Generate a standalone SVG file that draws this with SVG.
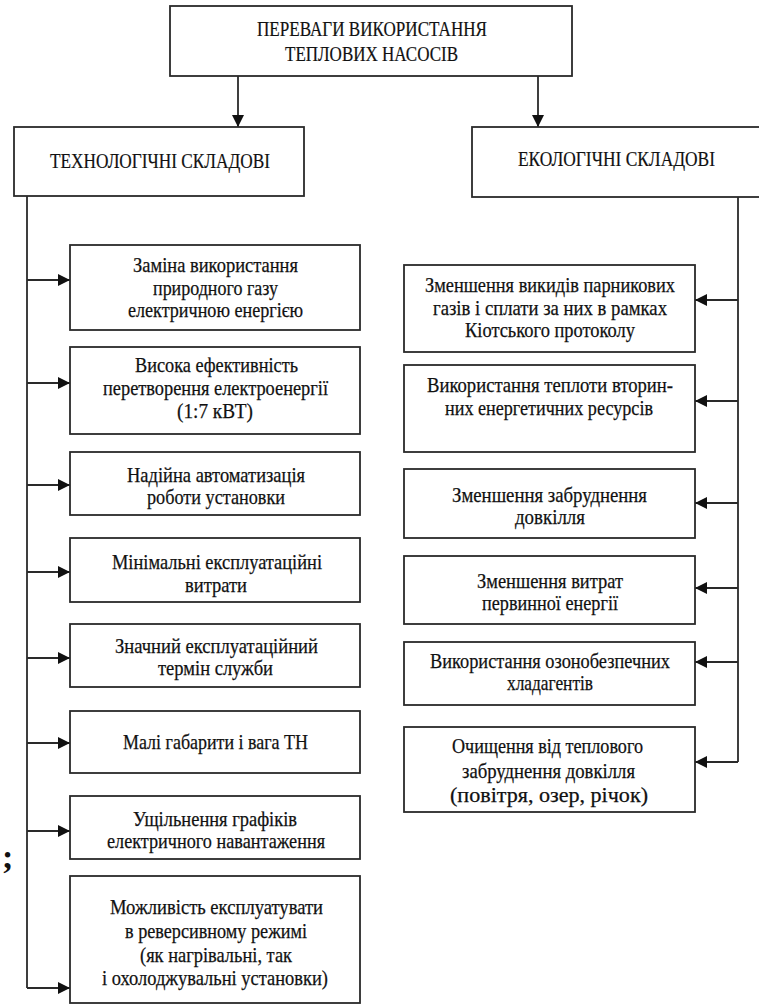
<svg xmlns="http://www.w3.org/2000/svg" width="759" height="1006" viewBox="0 0 759 1006">
<style>
.box{fill:#fff;stroke:#2a2a2a;stroke-width:1.8}
.t{font-family:"Liberation Serif","Times New Roman",serif;font-size:21px;fill:#111;stroke:#111;stroke-width:0.25}
.h{font-family:"Liberation Serif","Times New Roman",serif;font-size:20px;fill:#111;stroke:#111;stroke-width:0.2}
.c{fill:none;stroke:#2a2a2a;stroke-width:1.8}
</style>
<defs>
<marker id="ah" markerUnits="userSpaceOnUse" markerWidth="13" markerHeight="13" refX="12" refY="6" orient="auto">
<path d="M0,0 L12,6 L0,12 z" fill="#111"/>
</marker>
</defs>
<g id="connectors">
<path class="c" d="M238,76 V127" marker-end="url(#ah)"/>
<path class="c" d="M538,76 V127" marker-end="url(#ah)"/>
<path class="c" d="M27,196 V988"/>
<path class="c" d="M27,280 H70" marker-end="url(#ah)"/>
<path class="c" d="M27,383 H70" marker-end="url(#ah)"/>
<path class="c" d="M27,485 H70" marker-end="url(#ah)"/>
<path class="c" d="M27,572 H70" marker-end="url(#ah)"/>
<path class="c" d="M27,658 H70" marker-end="url(#ah)"/>
<path class="c" d="M27,743 H70" marker-end="url(#ah)"/>
<path class="c" d="M27,831 H70" marker-end="url(#ah)"/>
<path class="c" d="M27,988 H70" marker-end="url(#ah)"/>
<path class="c" d="M738,197 V762"/>
<path class="c" d="M738,300 H695" marker-end="url(#ah)"/>
<path class="c" d="M738,401 H695" marker-end="url(#ah)"/>
<path class="c" d="M738,503 H695" marker-end="url(#ah)"/>
<path class="c" d="M738,588 H695" marker-end="url(#ah)"/>
<path class="c" d="M738,662 H695" marker-end="url(#ah)"/>
<path class="c" d="M738,762 H695" marker-end="url(#ah)"/>
</g>
<g id="root">
<rect class="box" x="170" y="6" width="402" height="70"/>
<text class="h" x="257" y="36" textLength="230" lengthAdjust="spacingAndGlyphs">ПЕРЕВАГИ ВИКОРИСТАННЯ</text>
<text class="h" x="285" y="61" textLength="173" lengthAdjust="spacingAndGlyphs">ТЕПЛОВИХ НАСОСІВ</text>
</g>
<g id="tech">
<rect class="box" x="14" y="127" width="290" height="69"/>
<text class="h" x="50" y="168" textLength="220" lengthAdjust="spacingAndGlyphs">ТЕХНОЛОГІЧНІ  СКЛАДОВІ</text>
</g>
<g id="eco">
<rect class="box" x="472" y="127" width="300" height="70"/>
<text class="h" x="518" y="166" textLength="197" lengthAdjust="spacingAndGlyphs">ЕКОЛОГІЧНІ  СКЛАДОВІ</text>
</g>
<g id="t1">
<rect class="box" x="70" y="245" width="290" height="85"/>
<text class="t" x="133" y="272" textLength="165" lengthAdjust="spacingAndGlyphs">Заміна використання</text>
<text class="t" x="153" y="295" textLength="125" lengthAdjust="spacingAndGlyphs">природного газу</text>
<text class="t" x="128" y="317" textLength="175" lengthAdjust="spacingAndGlyphs">електричною енергією</text>
</g>
<g id="t2">
<rect class="box" x="70" y="347" width="290" height="87"/>
<text class="t" x="135" y="372" textLength="163" lengthAdjust="spacingAndGlyphs">Висока ефективність</text>
<text class="t" x="103" y="395" textLength="225" lengthAdjust="spacingAndGlyphs">перетворення електроенергії</text>
<text class="t" x="177" y="418" textLength="76" lengthAdjust="spacingAndGlyphs">(1:7 кВТ)</text>
</g>
<g id="t3">
<rect class="box" x="70" y="452" width="290" height="63"/>
<text class="t" x="127" y="482" textLength="178" lengthAdjust="spacingAndGlyphs">Надійна автоматизація</text>
<text class="t" x="147" y="504" textLength="138" lengthAdjust="spacingAndGlyphs">роботи установки</text>
</g>
<g id="t4">
<rect class="box" x="70" y="538" width="290" height="64"/>
<text class="t" x="112" y="569" textLength="210" lengthAdjust="spacingAndGlyphs">Мінімальні експлуатаційні</text>
<text class="t" x="185" y="592" textLength="62" lengthAdjust="spacingAndGlyphs">витрати</text>
</g>
<g id="t5">
<rect class="box" x="70" y="624" width="290" height="63"/>
<text class="t" x="115" y="653" textLength="203" lengthAdjust="spacingAndGlyphs">Значний експлуатаційний</text>
<text class="t" x="158" y="675" textLength="115" lengthAdjust="spacingAndGlyphs">термін служби</text>
</g>
<g id="t6">
<rect class="box" x="70" y="711" width="290" height="62"/>
<text class="t" x="123" y="749" textLength="185" lengthAdjust="spacingAndGlyphs">Малі габарити і вага ТН</text>
</g>
<g id="t7">
<rect class="box" x="70" y="796" width="290" height="63"/>
<text class="t" x="133" y="826" textLength="164" lengthAdjust="spacingAndGlyphs">Ущільнення графіків</text>
<text class="t" x="107" y="848" textLength="218" lengthAdjust="spacingAndGlyphs">електричного навантаження</text>
</g>
<g id="t8">
<rect class="box" x="70" y="876" width="290" height="127"/>
<text class="t" x="110" y="914" textLength="213" lengthAdjust="spacingAndGlyphs">Можливість експлуатувати</text>
<text class="t" x="125" y="938" textLength="182" lengthAdjust="spacingAndGlyphs">в реверсивному режимі</text>
<text class="t" x="140" y="962" textLength="152" lengthAdjust="spacingAndGlyphs">(як нагрівальні, так</text>
<text class="t" x="102" y="985" textLength="226" lengthAdjust="spacingAndGlyphs">і охолоджувальні установки)</text>
</g>
<g id="e1">
<rect class="box" x="404" y="265" width="291" height="87"/>
<text class="t" x="425" y="292" textLength="250" lengthAdjust="spacingAndGlyphs">Зменшення викидів парникових</text>
<text class="t" x="433" y="315" textLength="234" lengthAdjust="spacingAndGlyphs">газів і сплати за них в рамках</text>
<text class="t" x="465" y="337" textLength="170" lengthAdjust="spacingAndGlyphs">Кіотського протоколу</text>
</g>
<g id="e2">
<rect class="box" x="404" y="365" width="291" height="87"/>
<text class="t" x="427" y="392" textLength="246" lengthAdjust="spacingAndGlyphs">Використання теплоти вторин-</text>
<text class="t" x="445" y="415" textLength="208" lengthAdjust="spacingAndGlyphs">них енергетичних ресурсів</text>
</g>
<g id="e3">
<rect class="box" x="404" y="469" width="291" height="69"/>
<text class="t" x="452" y="502" textLength="195" lengthAdjust="spacingAndGlyphs">Зменшення забруднення</text>
<text class="t" x="515" y="524" textLength="70" lengthAdjust="spacingAndGlyphs">довкілля</text>
</g>
<g id="e4">
<rect class="box" x="404" y="556" width="291" height="68"/>
<text class="t" x="477" y="588" textLength="146" lengthAdjust="spacingAndGlyphs">Зменшення витрат</text>
<text class="t" x="482" y="610" textLength="136" lengthAdjust="spacingAndGlyphs">первинної енергії</text>
</g>
<g id="e5">
<rect class="box" x="404" y="642" width="291" height="63"/>
<text class="t" x="430" y="668" textLength="240" lengthAdjust="spacingAndGlyphs">Використання озонобезпечних</text>
<text class="t" x="507" y="690" textLength="86" lengthAdjust="spacingAndGlyphs">хладагентів</text>
</g>
<g id="e6">
<rect class="box" x="404" y="727" width="291" height="85"/>
<text class="t" x="452" y="753" textLength="191" lengthAdjust="spacingAndGlyphs">Очищення від теплового</text>
<text class="t" x="462" y="778" textLength="173" lengthAdjust="spacingAndGlyphs">забруднення довкілля</text>
<text class="t" x="450" y="802" textLength="198" lengthAdjust="spacingAndGlyphs">(повітря, озер, річок)</text>
</g>
<text x="2" y="868" font-family="Liberation Serif, serif" font-size="34" font-weight="bold" fill="#111">;</text>
</svg>
